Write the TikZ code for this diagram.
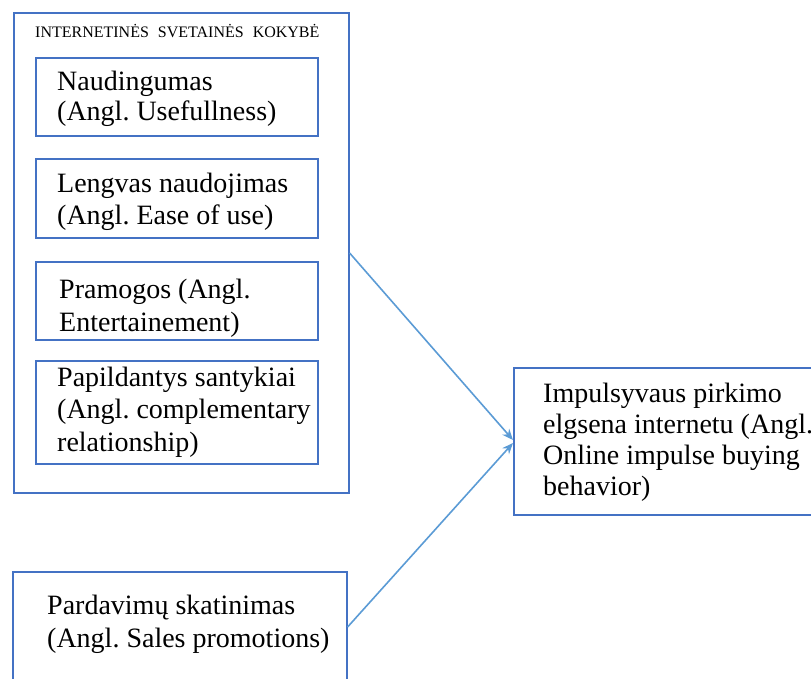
\documentclass[tikz,border=0pt]{standalone}
\usepackage{fontspec}
\setmainfont{Liberation Serif}
\usetikzlibrary{arrows.meta}
\frenchspacing
\definecolor{boxblue}{HTML}{4472C4}
\definecolor{arrblue}{HTML}{5B9BD5}
\tikzset{
  frame/.style={draw=boxblue, line width=1.6pt, rectangle, anchor=north west, inner sep=0pt},
  txt/.style={anchor=base west, align=left, inner sep=0pt, font=\fontsize{28}{32.5}\selectfont},
  txtb/.style={anchor=base west, align=left, inner sep=0pt, font=\fontsize{28}{30.7}\selectfont},
  arr/.style={draw=arrblue, line width=1.6pt, -{Stealth[length=11pt,width=9pt]}}
}
\begin{document}
\begin{tikzpicture}[x=1pt,y=-1pt]
\useasboundingbox (0,0) rectangle (811,679);
% outer frame
\node[frame, minimum width=335pt, minimum height=480pt] (outer) at (13,12) {};
\node[anchor=base west, inner sep=0pt, font=\fontsize{16}{18}\selectfont] (title) at (35,38) {INTERNETINĖS\hspace{5pt} SVETAINĖS\hspace{5pt} KOKYBĖ};
% inner boxes (text anchored at baseline of its last line)
\node[frame, minimum width=282pt, minimum height=78pt] (b1) at (35,57) {};
\node[txtb] (t1) at (57,121) {Naudingumas\\(Angl. Usefullness)};
\node[frame, minimum width=282pt, minimum height=79pt] (b2) at (35,158) {};
\node[txt] (t2) at (57,225) {Lengvas naudojimas\\(Angl. Ease of use)};
\node[frame, minimum width=282pt, minimum height=78pt] (b3) at (35,261) {};
\node[txt] (t3) at (59,331) {Pramogos (Angl.\\Entertainement)};
\node[frame, minimum width=282pt, minimum height=103pt] (b4) at (35,360) {};
\node[txt] (t4) at (57,451) {Papildantys santykiai\\(Angl. complementary\\relationship)};
% right box
\node[frame, minimum width=320pt, minimum height=147pt] (right) at (513,367) {};
\node[txtb] (tr) at (543,495) {Impulsyvaus pirkimo\\elgsena internetu (Angl.\\Online impulse buying\\behavior)};
% bottom box
\node[frame, minimum width=334pt, minimum height=140pt] (bottom) at (12,571) {};
\node[txt] (tb) at (47,647) {Pardavimų skatinimas\\(Angl. Sales promotions)};
% arrows
\draw[arr] ([yshift=-241pt]outer.north east) -- ([yshift=-73pt]right.north west);
\draw[arr] ([yshift=-56pt]bottom.north east) -- ([yshift=-76pt]right.north west);
\end{tikzpicture}
\end{document}
